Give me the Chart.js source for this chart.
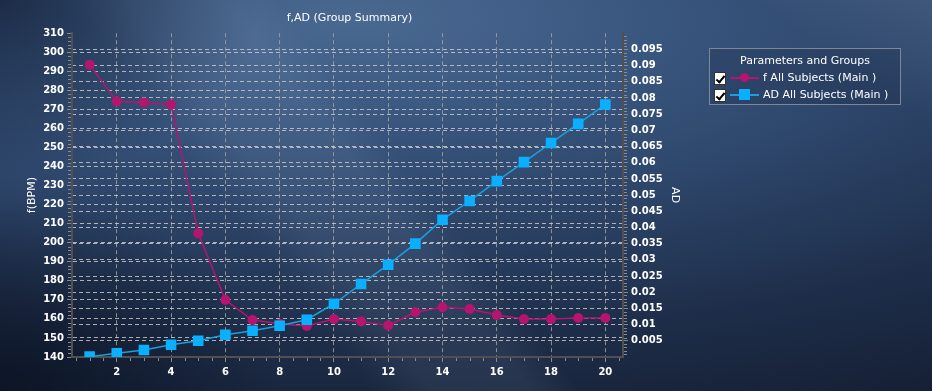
<!DOCTYPE html>
<html>
<head>
<meta charset="utf-8">
<script src="https://cdn.jsdelivr.net/npm/chart.js@4.4.1/dist/chart.umd.min.js"></script>
<style>
html, body { margin: 0; padding: 0; }
body { width: 932px; height: 391px; overflow: hidden; font-family: "DejaVu Sans", sans-serif; }
#wrap {
	position: relative; width: 932px; height: 391px;
	background:
		radial-gradient(28% 45% at 0% 0%, rgba(14,24,44,0.65), rgba(14,24,44,0)),
		radial-gradient(30% 50% at 0% 100%, rgba(8,14,28,0.7), rgba(8,14,28,0)),
		linear-gradient(52deg, rgba(255,255,255,0) 30%, rgba(190,210,240,0.08) 35%, rgba(190,210,240,0.08) 43%, rgba(255,255,255,0) 47%),
		linear-gradient(215deg, rgba(150,170,200,0.18) 0%, rgba(150,170,200,0) 12%),
		radial-gradient(140% 115% at 38% 5%, #4a6991 0%, #3a5780 22%, #2c4468 45%, #1e2e4a 70%, #131c2f 100%);
}
#c { position: absolute; left: 0; top: 0; }
.legend {
	position: absolute; left: 709px; top: 48px; width: 190px; height: 55px;
	border: 1px solid #7d8798; background: rgba(20, 32, 54, 0.2);
	color: #fff; font-size: 11px;
}
.legend .ttl { text-align: center; margin-top: 3px; height: 18px; line-height: 17px; }
.legend .row { position: relative; height: 17px; }
.legend .chk {
	position: absolute; left: 4px; top: 2px; width: 10px; height: 11px;
	background: #fff; border: 1px solid #333;
}
.legend .chk::after {
	content: ""; position: absolute; left: 3px; top: 1px; width: 3px; height: 7px;
	border: solid #000; border-width: 0 2px 2px 0; transform: rotate(40deg);
}
.legend .ln { position: absolute; left: 20px; top: 7px; width: 29px; height: 1.5px; }
.legend .mk { position: absolute; }
.legend .lbl { position: absolute; left: 53px; top: 0; line-height: 15px; white-space: nowrap; }
</style>
</head>
<body>
<div id="wrap">
	<canvas id="c" width="932" height="391"></canvas>
	<div class="legend">
		<div class="ttl">Parameters and Groups</div>
		<div class="row">
			<span class="chk"></span>
			<span class="ln" style="background:#b5146f"></span>
			<span class="mk" style="left:30px;top:3px;width:9px;height:9px;border-radius:50%;background:#b5146f"></span>
			<span class="lbl">f All Subjects (Main )</span>
		</div>
		<div class="row">
			<span class="chk"></span>
			<span class="ln" style="background:#1a9fe0"></span>
			<span class="mk" style="left:29px;top:2px;width:11px;height:11px;background:#0aafff"></span>
			<span class="lbl">AD All Subjects (Main )</span>
		</div>
	</div>
</div>
<script>
// ── DATA ────────────────────────────────────────────────────
const xValues = [1, 2, 3, 4, 5, 6, 7, 8, 9, 10, 11, 12, 13, 14, 15, 16, 17, 18, 19, 20];
const fValues = [293.5, 274.2, 273.6, 272.6, 204.9, 169.9, 159.4, 157.5, 156.3, 159.9,
	158.7, 156.6, 163.5, 166.1, 165.2, 162.0, 159.9, 159.9, 160.5, 160.5];
const adValues = [0.0001, 0.00114, 0.00216, 0.0038, 0.00503, 0.00688, 0.00812, 0.00966, 0.0115, 0.01645,
	0.02253, 0.0285, 0.035, 0.0424, 0.0482, 0.0543, 0.0602, 0.0661, 0.072, 0.078];

const xTicks = [2, 4, 6, 8, 10, 12, 14, 16, 18, 20];
const adTicks = [0.005, 0.01, 0.015, 0.02, 0.025, 0.03, 0.035, 0.04, 0.045, 0.05,
	0.055, 0.06, 0.065, 0.07, 0.075, 0.08, 0.085, 0.09, 0.095];

// ── STYLE ───────────────────────────────────────────────────
const F_COLOR = '#b5146f';
const AD_LINE = '#1a9fe0';
const AD_FILL = '#0aafff';
const GRID = 'rgba(200,200,200,0.85)';
const VGRID = 'rgba(160,160,160,0.85)';
const AXIS = '#505050';
const TICK = '#8a8a8a';
const font = { family: 'DejaVu Sans', size: 11, weight: 'normal' };
const tickFont = { family: 'DejaVu Sans', size: 10, weight: 'bold' };

// minor tick marks along the three axes
const minorTicks = {
	id: 'minorTicks',
	afterDraw(chart) {
		const { ctx, chartArea: a, scales } = chart;
		ctx.save();
		ctx.strokeStyle = TICK;
		ctx.lineWidth = 1;
		ctx.beginPath();
		for (let v = 0.5; v <= 20.5; v += 0.5) {
			if (v % 2 === 0) continue;
			const x = Math.round(scales.x.getPixelForValue(v)) + 0.5;
			ctx.moveTo(x, a.bottom + 1); ctx.lineTo(x, a.bottom + 4);
		}
		for (let v = 142; v < 310; v += 2) {
			if (v % 10 === 0) continue;
			const y = Math.round(scales.y.getPixelForValue(v)) + 0.5;
			ctx.moveTo(a.left - 4, y); ctx.lineTo(a.left - 1, y);
		}
		for (let i = 1; i < 100; i++) {
			if (i % 5 === 0) continue;
			const y = Math.round(scales.y1.getPixelForValue(i / 1000)) + 0.5;
			ctx.moveTo(a.right + 1, y); ctx.lineTo(a.right + 4, y);
		}
		ctx.stroke();
		ctx.restore();
	}
};

const edgeGrid = (lo, hi) => c => (c.tick && (c.tick.value === lo || c.tick.value === hi)) ? 'rgba(0,0,0,0)' : GRID;

new Chart(document.getElementById('c'), {
	type: 'line',
	data: {
		labels: xValues,
		datasets: [
			{
				label: 'f All Subjects (Main )',
				data: xValues.map((x, i) => ({ x, y: fValues[i] })),
				yAxisID: 'y', order: 1,
				borderColor: F_COLOR, backgroundColor: F_COLOR, borderWidth: 1.5,
				pointStyle: 'circle', pointRadius: 5, pointBorderWidth: 0,
				tension: 0
			},
			{
				label: 'AD All Subjects (Main )',
				data: xValues.map((x, i) => ({ x, y: adValues[i] })),
				yAxisID: 'y1', order: 0,
				borderColor: AD_LINE, backgroundColor: AD_FILL, borderWidth: 1.5,
				pointStyle: 'rect', pointRadius: 7.5, pointBorderWidth: 0,
				tension: 0
			}
		]
	},
	options: {
		responsive: false,
		animation: false,
		layout: { padding: { left: 14, right: 247, top: 0, bottom: 0 } },
		plugins: {
			legend: { display: false },
			tooltip: { enabled: false },
			title: {
				display: true, text: 'f,AD (Group Summary)', color: '#fff',
				font, padding: { top: 12, bottom: 8 }
			}
		},
		scales: {
			x: {
				type: 'linear', min: 0.35, max: 20.65,
				afterBuildTicks: s => { s.ticks = xTicks.map(v => ({ value: v })); },
				afterFit: s => { s.height = 34; },
				ticks: { color: '#fff', font: tickFont, padding: 4, maxRotation: 0 },
				grid: { color: VGRID, tickColor: TICK, tickLength: 5 },
				border: { color: AXIS, width: 2, dash: [4, 3] }
			},
			y: {
				position: 'left', min: 140, max: 310,
				afterFit: s => { s.width = 58; },
				ticks: { stepSize: 10, color: '#fff', font: tickFont, padding: 3 },
				grid: { color: edgeGrid(140, 310), tickColor: TICK, tickLength: 5 },
				border: { color: AXIS, width: 2, dash: [4, 3] },
				title: { display: true, text: 'f(BPM)', color: '#fff', font, padding: { top: 12, bottom: 0 } }
			},
			y1: {
				position: 'right', min: 0, max: 0.1,
				afterBuildTicks: s => { s.ticks = adTicks.map(v => ({ value: v })); },
				afterFit: s => { s.width = 62; },
				ticks: { color: '#fff', font: tickFont, padding: 3, callback: v => String(v) },
				grid: { color: GRID, tickColor: TICK, tickLength: 5 },
				border: { color: AXIS, width: 2, dash: [4, 3] },
				title: { display: true, text: 'AD', color: '#fff', font, padding: { top: 4, bottom: 0 } }
			}
		}
	},
	plugins: [minorTicks]
});
</script>
</body>
</html>
